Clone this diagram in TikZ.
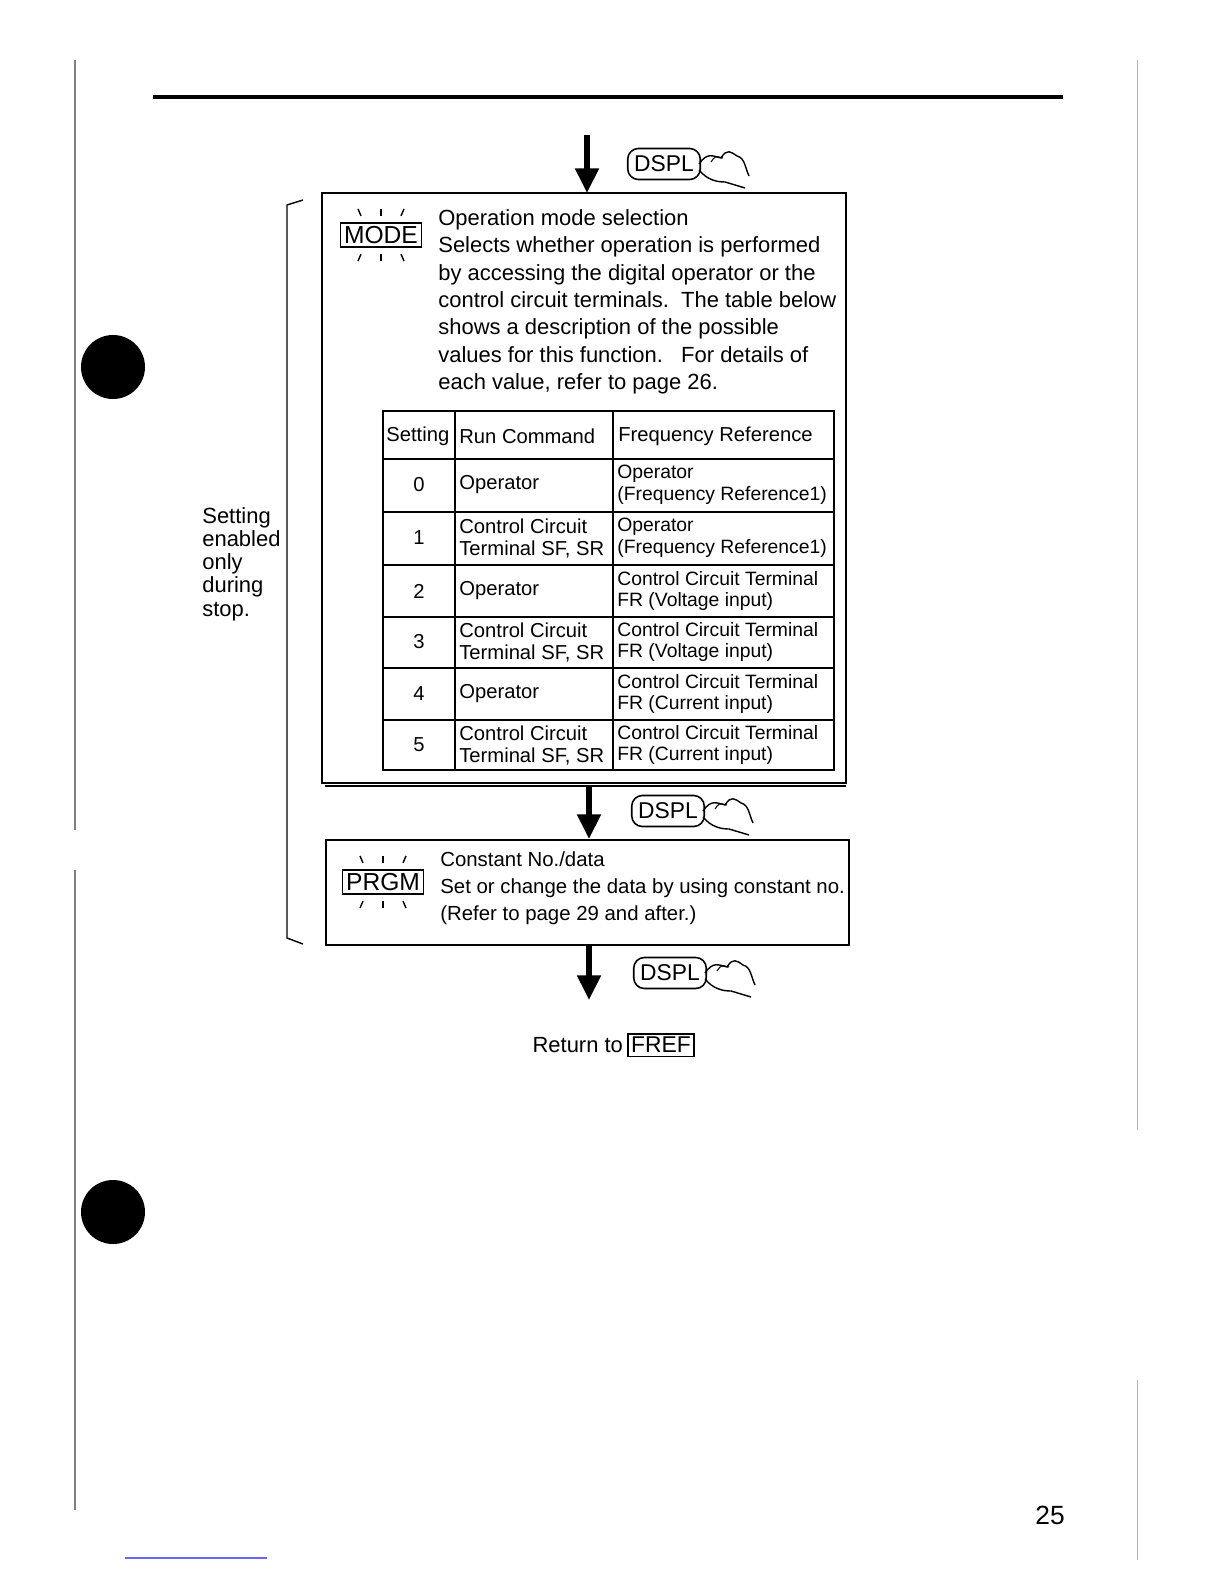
\documentclass[tikz,border=0pt]{standalone}
\usepackage{fontspec}
\setmainfont{Liberation Sans}
\usetikzlibrary{positioning,arrows.meta,calc}

\tikzset{
	keybox/.style={draw,line width=1pt,inner sep=2pt,font=\fontsize{14}{16}\selectfont},
	bigarrow/.style={line width=3pt,-{Triangle[length=14pt,width=13pt]}},
	body/.style={align=left,anchor=north west,inner sep=0pt,font=\fontsize{12.5}{15.6}\selectfont},
	cell/.style={align=left,anchor=west,inner sep=0pt,font=\fontsize{11.5}{12.5}\selectfont},
	dspl/.style={draw,rounded corners=6pt,line width=0.9pt,minimum width=1.45cm,minimum height=0.62cm,font=\fontsize{13}{15}\selectfont},
	tick/.style={line width=0.8pt}
}

% flicker marks round a key
\newcommand{\flicker}[1]{%
	\draw[tick] ($(#1.north)+(-20,-6)$) -- ++(-3,-7);
	\draw[tick] ($(#1.north)+(0,-6)$) -- ++(0,-7);
	\draw[tick] ($(#1.north)+(20,-6)$) -- ++(3,-7);
	\draw[tick] ($(#1.south)+(-20,6)$) -- ++(-3,7);
	\draw[tick] ($(#1.south)+(0,6)$) -- ++(0,7);
	\draw[tick] ($(#1.south)+(20,6)$) -- ++(3,7);}
% pressing hand beside a key
\newcommand{\hand}[1]{%
	\draw[line width=0.8pt] ($(#1.east)+(-2,0)$) .. controls +(8,-12) and +(-8,-2) .. ++(22,-6)
		.. controls +(6,-10) and +(-6,-4) .. ++(16,-2) .. controls +(8,2) and +(-4,-8) .. ++(12,20);
	\draw[line width=0.8pt] ($(#1.east)+(-2,6)$) .. controls +(8,10) and +(-8,0) .. ++(26,12) -- ++(20,6);
	\draw[line width=0.6pt] ($(#1.east)+(10,-2)$) .. controls +(4,-6) .. ++(12,-4);}

\begin{document}
\begin{tikzpicture}[x=0.02cm,y=-0.02cm]
	\useasboundingbox (0,0) rectangle (1224,1584);

	% page furniture
	\draw[line width=2pt] (153,97) -- (1063,97);
	\fill (113,367) circle (32);
	\fill (113,1212) circle (32);
	\draw[line width=0.6pt,gray] (75,60) -- (75,830) (75,870) -- (75,1510);
	\draw[line width=0.4pt,gray!60] (1137,60) -- (1137,1130) (1137,1380) -- (1137,1560);
	\draw[line width=0.6pt,blue!60] (125,1558) -- (267,1558);
	\node[inner sep=0pt,font=\fontsize{15}{17}\selectfont] (pgno) at (1050,1515) {25};

	% the mode box
	\draw[line width=1pt] (322,193) rectangle (846,783);
	\draw[line width=1pt] (325,786) -- (846,786);
	\node[keybox] (mode) at (381,235) {MODE};
	\flicker{mode}
	\node[body] (modetext) at (438,209) {Operation mode selection\\
		Selects whether operation is performed\\
		by accessing the digital operator or the\\
		control circuit terminals.\ \ The table below\\
		shows a description of the possible\\
		values for this function.\ \ \ For details of\\
		each value, refer to page 26.};

	% the table
	\draw[line width=1pt] (383,411) rectangle (834,770);
	\foreach \y in {459,512,565,617,668,720} \draw[line width=1pt] (383,\y) -- (834,\y);
	\foreach \x in {455,613} \draw[line width=1pt] (\x,411) -- (\x,770);
	\node[cell] (h1) at (386,436) {Setting};
	\node[cell] (h2) at (459,436) {Run Command};
	\node[cell] (h3) at (618,436) {Frequency Reference};
	\foreach \y/\s/\r/\f in {
		485/0/{Operator}/{Operator\\(Frequency Reference1)},
		538/1/{Control Circuit\\Terminal SF, SR}/{Operator\\(Frequency Reference1)},
		591/2/{Operator}/{Control Circuit Terminal\\FR (Voltage input)},
		642/3/{Control Circuit\\Terminal SF, SR}/{Control Circuit Terminal\\FR (Voltage input)},
		694/4/{Operator}/{Control Circuit Terminal\\FR (Current input)},
		745/5/{Control Circuit\\Terminal SF, SR}/{Control Circuit Terminal\\FR (Current input)}} {
		\node[cell,anchor=center] (s\s) at (419,\y) {\s};
		\node[cell] (r\s) at (459,\y) {\r};
		\node[cell,font=\fontsize{11}{12.5}\selectfont] (f\s) at (617,\y) {\f};
	}

	% the program box
	\node[draw,line width=1pt,minimum width=10.46cm,minimum height=2.1cm,anchor=north west] (prgmbox) at (325,839) {};
	\node[keybox] (prgm) at (383,882) {PRGM};
	\flicker{prgm}
	\node[body,font=\fontsize{11.6}{15.6}\selectfont] (prgmtext) at (440,851) {Constant No./data\\
		Set or change the data by using constant no.\\
		(Refer to page 29 and after.)};

	% bracket and note
	\draw[line width=0.8pt] (303,200) -- (287,205) -- (287,938) -- (303,944);
	\node[body,font=\fontsize{12.5}{13.2}\selectfont] (note) at (202,507) {Setting\\enabled\\only\\during\\stop.};

	% keys and arrows
	\node[dspl] (d1) at (664,164) {DSPL};
	\hand{d1}
	\node[dspl] (d2) at (668,811) {DSPL};
	\hand{d2}
	\node[dspl] (d3) at (670,973) {DSPL};
	\hand{d3}
	\coordinate (a1) at (587,135);
	\coordinate (a3) at (589,1000);
	\draw[bigarrow] (a1) -- (587,193);
	\draw[bigarrow] (589,786) -- (prgmbox.north -| 589,0);
	\draw[bigarrow] (prgmbox.south -| 589,0) -- (a3);

	% return
	\node[keybox,font=\fontsize{13}{15}\selectfont] (fref) at (661,1045) {FREF};
	\node[inner sep=0pt,font=\fontsize{12.5}{15}\selectfont,left=2pt of fref] (ret) {Return to};
\end{tikzpicture}
\end{document}
